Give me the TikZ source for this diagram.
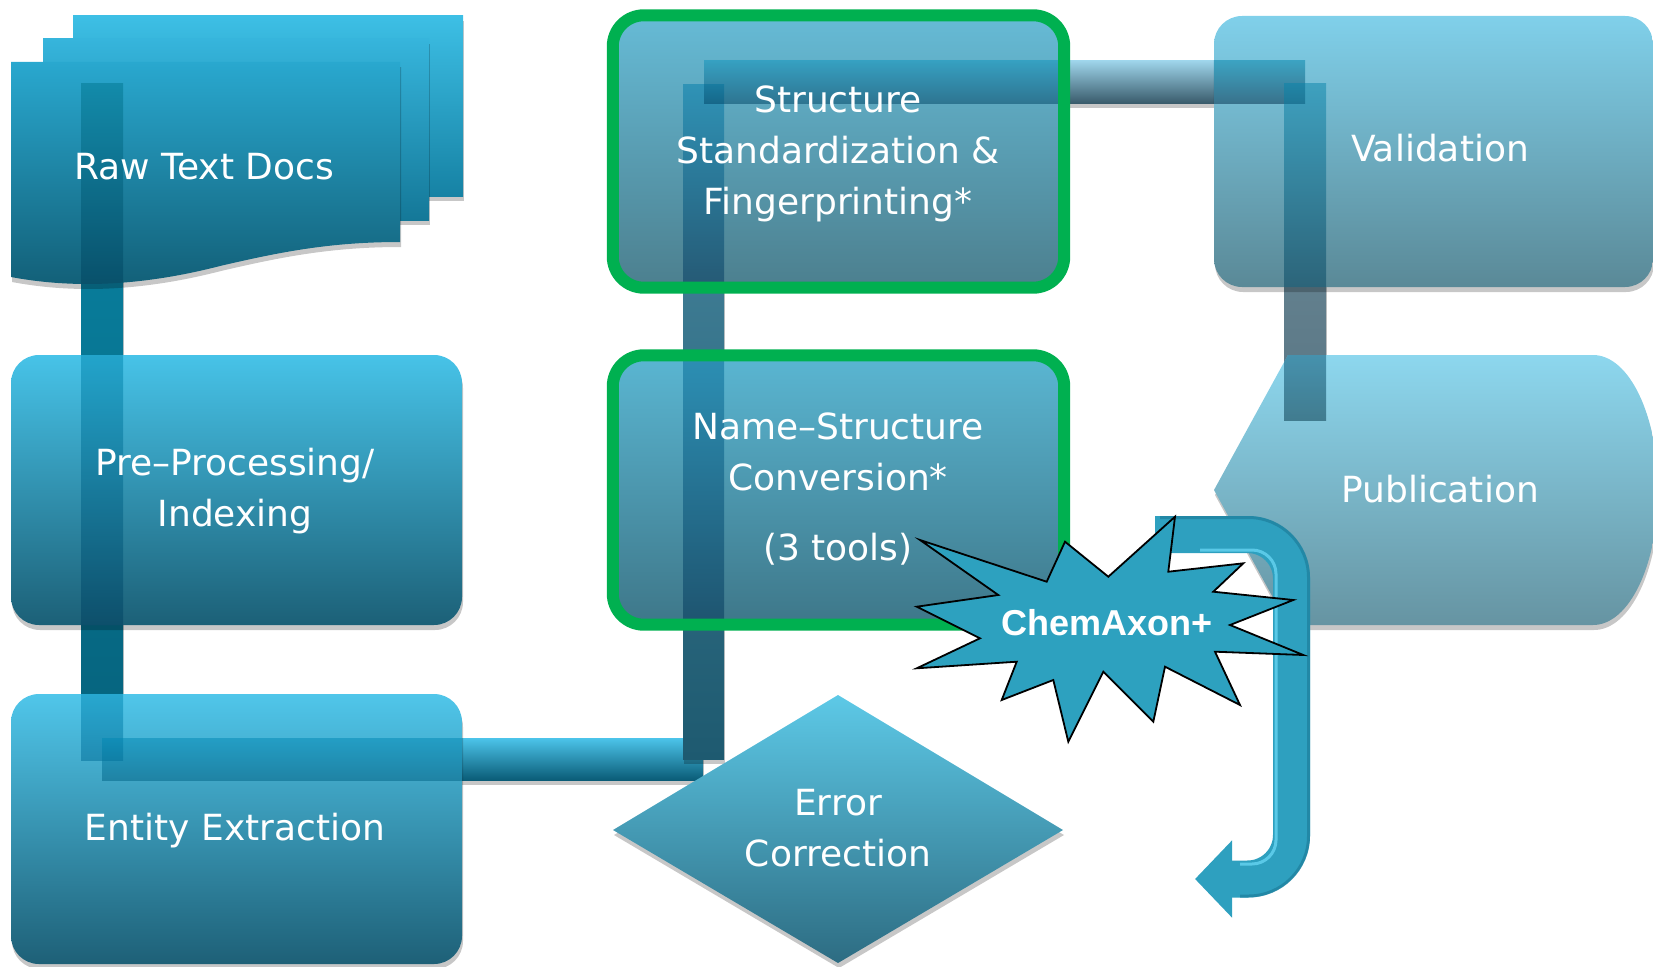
\documentclass[tikz,border=0pt]{standalone}
\usepackage{fontspec}
\setmainfont{DejaVu Sans}
\newfontfamily\chemfont{Liberation Sans}
\usetikzlibrary{shadows,arrows.meta}
\definecolor{rawBackTop}{HTML}{3DBFE5}\definecolor{rawBackBot}{HTML}{1682A4}
\definecolor{rawMidTop}{HTML}{36B5DC}\definecolor{rawMidBot}{HTML}{147898}
\definecolor{rawFrontTop}{HTML}{29A8CF}\definecolor{rawFrontBot}{HTML}{125E76}
\definecolor{preTop}{HTML}{47C3E8}\definecolor{preBot}{HTML}{1C6077}
\definecolor{entTop}{HTML}{50C6EA}\definecolor{entBot}{HTML}{1E6077}
\definecolor{strTop}{HTML}{66BBD6}\definecolor{strBot}{HTML}{4C7F8E}
\definecolor{namTop}{HTML}{5AB6D2}\definecolor{namBot}{HTML}{3E7789}
\definecolor{valTop}{HTML}{80D0EA}\definecolor{valBot}{HTML}{5A8997}
\definecolor{pubTop}{HTML}{8DD7EE}\definecolor{pubBot}{HTML}{6694A2}
\definecolor{errTop}{HTML}{5DC9E7}\definecolor{errBot}{HTML}{2D6C82}
\definecolor{starC}{HTML}{2DA1BF}
\definecolor{arrowC}{HTML}{2EA0BF}
\definecolor{arrowHi}{HTML}{66D4F2}
\definecolor{arrowLo}{HTML}{1E7F9C}
\definecolor{greenB}{HTML}{00B050}
\definecolor{barLTop}{HTML}{0A86A6}\definecolor{barLBot}{HTML}{05627C}
\definecolor{barBTop}{HTML}{4CC4EA}\definecolor{barBMid}{HTML}{1A9AC2}\definecolor{barBBot}{HTML}{0A5C77}
\definecolor{barMTop}{HTML}{4A88A0}\definecolor{barMBot}{HTML}{1E5A70}
\definecolor{barTTop}{HTML}{9ED4EA}\definecolor{barTMid}{HTML}{6FA3B8}\definecolor{barTBot}{HTML}{3A5C6C}
\definecolor{barRTop}{HTML}{6E8E9C}\definecolor{barRBot}{HTML}{5A7684}
% overlay colours (top / bottom) where a bar crosses a box
\definecolor{oRawL1}{HTML}{00768F}\definecolor{oRawL2}{HTML}{00425E}
\definecolor{oPreL1}{HTML}{0087B0}\definecolor{oPreL2}{HTML}{004060}
\definecolor{oEntL1}{HTML}{008AB6}\definecolor{oEntL2}{HTML}{006C98}
\definecolor{oEntB1}{HTML}{0088B4}\definecolor{oEntB2}{HTML}{006285}
\definecolor{oStrM1}{HTML}{007BAA}\definecolor{oStrM2}{HTML}{00355C}
\definecolor{oStrT1}{HTML}{0C90B9}\definecolor{oStrT2}{HTML}{004365}
\definecolor{oNamM1}{HTML}{006A98}\definecolor{oNamM2}{HTML}{003357}
\definecolor{oValT1}{HTML}{0082A8}\definecolor{oValT2}{HTML}{002D4A}
\definecolor{oValR1}{HTML}{0784AA}\definecolor{oValR2}{HTML}{00415D}
\definecolor{oPubR1}{HTML}{004D6E}\definecolor{oPubR2}{HTML}{003244}
\begin{document}
\begin{tikzpicture}[x=1pt,y=-1pt]
\tikzset{
  shd/.style={drop shadow={shadow xshift=1pt, shadow yshift=-5pt, opacity=0.22, fill=black}},
  rbox/.style={shd, rounded corners=28pt, inner sep=0pt, draw=none},
  lbl/.style={text=white, align=center, inner sep=0pt, font=\fontsize{36}{51}\selectfont},
  ovl/.style={opacity=0.5},
  gborder/.style={draw=greenB, line width=12pt, rounded corners=31pt},
}
\useasboundingbox (0,0) rectangle (1653,966);

% ---------- bar coordinates ----------
\coordinate (L1) at (81,83);    \coordinate (L2) at (123,760);
\coordinate (B1) at (102,738);  \coordinate (B2) at (703,780);
\coordinate (M1) at (683,84);   \coordinate (M2) at (724,759);
\coordinate (T1) at (704,61);   \coordinate (T2) at (1305,103);
\coordinate (R1) at (1284,83);  \coordinate (R2) at (1326,420);

% ---------- connector bars, under the boxes ----------
\path[shd, top color=barLTop, bottom color=barLBot] (L1) rectangle (L2);
\path[shd, top color=barBTop, middle color=barBMid, bottom color=barBBot] (B1) rectangle (B2);
\path[shd, top color=barMTop, bottom color=barMBot] (M1) rectangle (M2);
\path[shd, top color=barTTop, middle color=barTMid, bottom color=barTBot] (T1) rectangle (T2);
\path[shd, top color=barRTop, bottom color=barRBot] (R1) rectangle (R2);

% ---------- Raw Text Docs (stack of pages) ----------
\path[shd, top color=rawBackTop, bottom color=rawBackBot] (73,16) rectangle (463,196);
\path[shd, top color=rawMidTop, bottom color=rawMidBot] (43,39) rectangle (429,220);
\path[shd, top color=rawFrontTop, bottom color=rawFrontBot]
  (11,62) -- (400,62) -- (400,242)
  .. controls (330,242) and (280,252) .. (220,266)
  .. controls (150,284) and (80,290) .. (11,277) -- cycle;
\coordinate (rawTop) at (11,62); \coordinate (rawBot) at (11,288);

% ---------- boxes ----------
\node[rbox, minimum width=451pt, minimum height=270pt, top color=preTop, bottom color=preBot] (pre) at (236.5,490) {};
\node[rbox, minimum width=451pt, minimum height=270pt, top color=entTop, bottom color=entBot] (ent) at (236.5,829) {};
\node[rbox, rounded corners=31pt, minimum width=451pt, minimum height=272pt, top color=strTop, bottom color=strBot] (str) at (838.5,151.5) {};
\node[rbox, rounded corners=31pt, minimum width=451pt, minimum height=269pt, top color=namTop, bottom color=namBot] (nam) at (838.5,490) {};
\node[rbox, minimum width=439pt, minimum height=271pt, top color=valTop, bottom color=valBot] (val) at (1433.5,151.5) {};
\path[shd, top color=pubTop, bottom color=pubBot]
  (1214,490) -- (1288,355) -- (1593,355)
  .. controls (1629,355) and (1658,415) .. (1658,490)
  .. controls (1658,565) and (1629,625) .. (1593,625)
  -- (1288,625) -- cycle;
\coordinate (pubTop) at (1288,355); \coordinate (pubBot) at (1288,625);
\path[shd, top color=errTop, bottom color=errBot]
  (838,695) -- (1063,830) -- (838,963) -- (613,830) -- cycle;

% ---------- connector bars, translucent where they cross a box ----------
\begin{scope}
  \clip (11,62) -- (400,62) -- (400,242)
    .. controls (330,242) and (280,252) .. (220,266)
    .. controls (150,284) and (80,290) .. (11,277) -- cycle;
  \shade[ovl, top color=oRawL1, bottom color=oRawL2] (L1) rectangle (L2 |- rawBot);
\end{scope}
\begin{scope}
  \clip[rounded corners=28pt] (pre.north west) rectangle (pre.south east);
  \shade[ovl, top color=oPreL1, bottom color=oPreL2] (L1 |- pre.north) rectangle (L2 |- pre.south);
\end{scope}
\begin{scope}
  \clip[rounded corners=28pt] (ent.north west) rectangle (ent.south east);
  \shade[ovl, top color=oEntL1, bottom color=oEntL2] (L1 |- ent.north) rectangle (L2);
  \shade[ovl, top color=oEntB1, bottom color=oEntB2] (B1) rectangle (B2);
\end{scope}
\begin{scope}
  \clip[rounded corners=31pt] (str.north west) rectangle (str.south east);
  \shade[ovl, top color=oStrM1, bottom color=oStrM2] (M1) rectangle (M2 |- str.south);
  \shade[ovl, top color=oStrT1, bottom color=oStrT2] (T1) rectangle (T2);
\end{scope}
\begin{scope}
  \clip[rounded corners=31pt] (nam.north west) rectangle (nam.south east);
  \shade[ovl, top color=oNamM1, bottom color=oNamM2] (M1 |- nam.north) rectangle (M2 |- nam.south);
\end{scope}
\begin{scope}
  \clip[rounded corners=28pt] (val.north west) rectangle (val.south east);
  \shade[ovl, top color=oValT1, bottom color=oValT2] (T1) rectangle (T2);
  \shade[ovl, top color=oValR1, bottom color=oValR2] (R1) rectangle (R2 |- val.south);
\end{scope}
\begin{scope}
  \clip (1214,490) -- (1288,355) -- (1593,355) -- (1658,490) -- (1593,625) -- (1288,625) -- cycle;
  \shade[ovl, top color=oPubR1, bottom color=oPubR2] (R1 |- pubTop) rectangle (R2);
\end{scope}

% ---------- green borders ----------
\draw[gborder] (str.north west) rectangle (str.south east);
\draw[gborder] (nam.north west) rectangle (nam.south east);

% ---------- labels ----------
\node[lbl] (rawT) at (204,167) {Raw Text Docs};
\node[lbl] (preT) at (235,491.5) {Pre–Processing/\\Indexing};
\node[lbl] (entT) at (235,831) {Entity Extraction};
\node[lbl] (strT) at (838,153.5) {Structure\\Standardization \&\\Fingerprinting*};
\node[lbl] (namT) at (838,489) {Name–Structure\\Conversion*\\[19pt](3 tools)};
\node[lbl] (valT) at (1440,148) {Validation};
\node[lbl] (pubT) at (1440,489) {Publication};
\node[lbl] (errT) at (838,828) {Error\\Correction};

% ---------- U-turn arrow ----------
\coordinate (aS) at (1155,534.5);
\coordinate (aC1) at (1291.5,534.5);
\coordinate (aC2) at (1291.5,879);
\coordinate (aTip) at (1195,879);
\draw[arrowC, line width=37pt, rounded corners=44pt, -{Triangle[length=37pt,width=75pt]}]
  (aS) -- (aC1) -- (aC2) -- (aTip);
\draw[arrowLo, line width=3pt, rounded corners=60pt, opacity=0.7]
  (1160,517.5) -- (1308.5,517.5) -- (1308.5,896) -- (1240,896);
\draw[arrowHi, line width=3pt, rounded corners=24pt, opacity=0.8]
  (1200,550) -- (1276,550) -- (1276,864) -- (1240,864);

% ---------- ChemAxon+ burst ----------
\filldraw[fill=starC, draw=black, line width=1.8pt, line join=miter]
  (920,540) -- (1046.7,581.7) -- (1065,541.7) -- (1108.3,576.7) -- (1175,516.7)
  -- (1168.3,571.7) -- (1243.3,563.3) -- (1213.3,591.7) -- (1293.3,600)
  -- (1230,625) -- (1303.3,655) -- (1215,651.7) -- (1240,705) -- (1165,666.7)
  -- (1153.3,721.7) -- (1103.3,671.7) -- (1068.3,741.7) -- (1053.3,680)
  -- (1001.7,700) -- (1016.7,661.7) -- (916.7,668.3) -- (980,638.3)
  -- (916.7,606.7) -- (998.3,595) -- cycle;
\node[text=white, inner sep=0pt, font=\chemfont\bfseries\fontsize{36}{40}\selectfont] (chem) at (1107,623) {ChemAxon+};
\end{tikzpicture}
\end{document}
